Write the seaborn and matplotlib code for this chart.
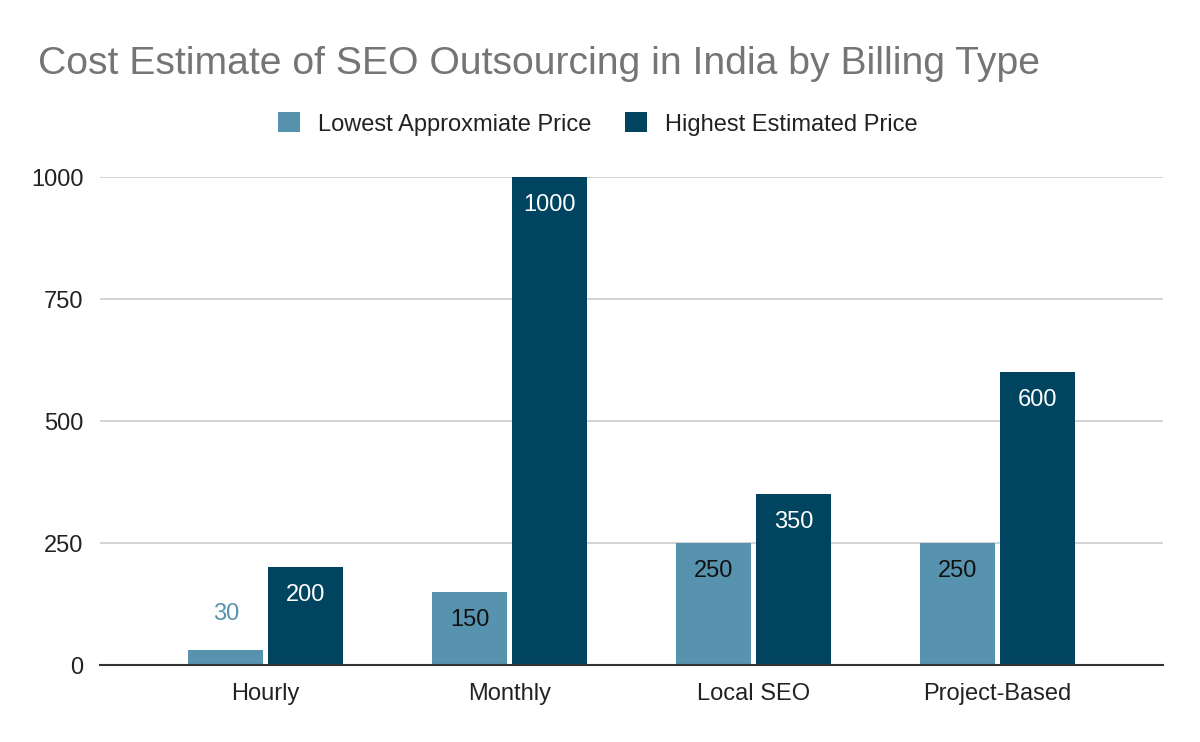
import matplotlib
matplotlib.use("Agg")
import matplotlib.pyplot as plt
import seaborn as sns
import pandas as pd
from matplotlib.patches import Patch

categories = ["Hourly", "Monthly", "Local SEO", "Project-Based"]
lowest = [30, 150, 250, 250]
highest = [200, 1000, 350, 600]
series_names = ["Lowest Approxmiate Price", "Highest Estimated Price"]
yticks = [0, 250, 500, 750, 1000]

c_light = "#5792AF"
c_dark = "#01445F"

df = pd.DataFrame({
    "cat": categories * 2,
    "val": lowest + highest,
    "series": [series_names[0]] * 4 + [series_names[1]] * 4,
})

sns.set_theme(style="white")
plt.rcParams["font.family"] = ["Liberation Sans", "DejaVu Sans"]

fig = plt.figure(figsize=(12, 7.42), dpi=100)
ax = fig.add_axes([100 / 1200, 1 - 665 / 742, 1063 / 1200, (665 - 177) / 742])

sns.barplot(data=df, x="cat", y="val", hue="series", order=categories,
            hue_order=series_names, palette=[c_light, c_dark],
            width=0.656, gap=0.06, ax=ax, legend=False, saturation=1,
            linewidth=0)

ax.set_xlim(-0.68, 3.68)
ax.set_ylim(0, 1000)
ax.set_yticks(yticks)
ax.set_yticklabels([str(v) for v in yticks], fontsize=17, color="#222222")
ax.tick_params(axis="x", labelsize=17, colors="#222222", length=0, pad=13)
ax.tick_params(axis="y", length=0, pad=12)
ax.set_xlabel("")
ax.set_ylabel("")
ax.yaxis.grid(True, color="#cccccc", linewidth=1.2)
ax.set_axisbelow(True)
for s in ["top", "right", "left"]:
    ax.spines[s].set_visible(False)
ax.spines["bottom"].set_color("#333333")
ax.spines["bottom"].set_linewidth(1.5)

# value labels
for i, cont in enumerate(ax.containers):
    for bar in cont:
        h = bar.get_height()
        xc = bar.get_x() + bar.get_width() / 2
        if h < 100:
            ax.annotate(f"{int(h)}", (xc, h), xytext=(0, 36), textcoords="offset pixels",
                        ha="center", va="center", fontsize=17, color=c_light)
        else:
            col = "white" if i == 1 else "#111111"
            ax.annotate(f"{int(h)}", (xc, h), xytext=(0, -28), textcoords="offset pixels",
                        ha="center", va="center", fontsize=17, color=col)

fig.text(38 / 1200, 1 - 64 / 742, "Cost Estimate of SEO Outsourcing in India by Billing Type",
         fontsize=28.2, color="#757575", ha="left", va="center")

handles = [Patch(facecolor=c_light, edgecolor="none"), Patch(facecolor=c_dark, edgecolor="none")]
fig.legend(handles, series_names, loc="center", bbox_to_anchor=(598 / 1200, 1 - 124 / 742),
           ncol=2, frameon=False, fontsize=17, handlelength=0.93, handleheight=0.93,
           columnspacing=1.45, handletextpad=0.76, labelcolor="#222222")

fig.savefig("out.png", dpi=100)
